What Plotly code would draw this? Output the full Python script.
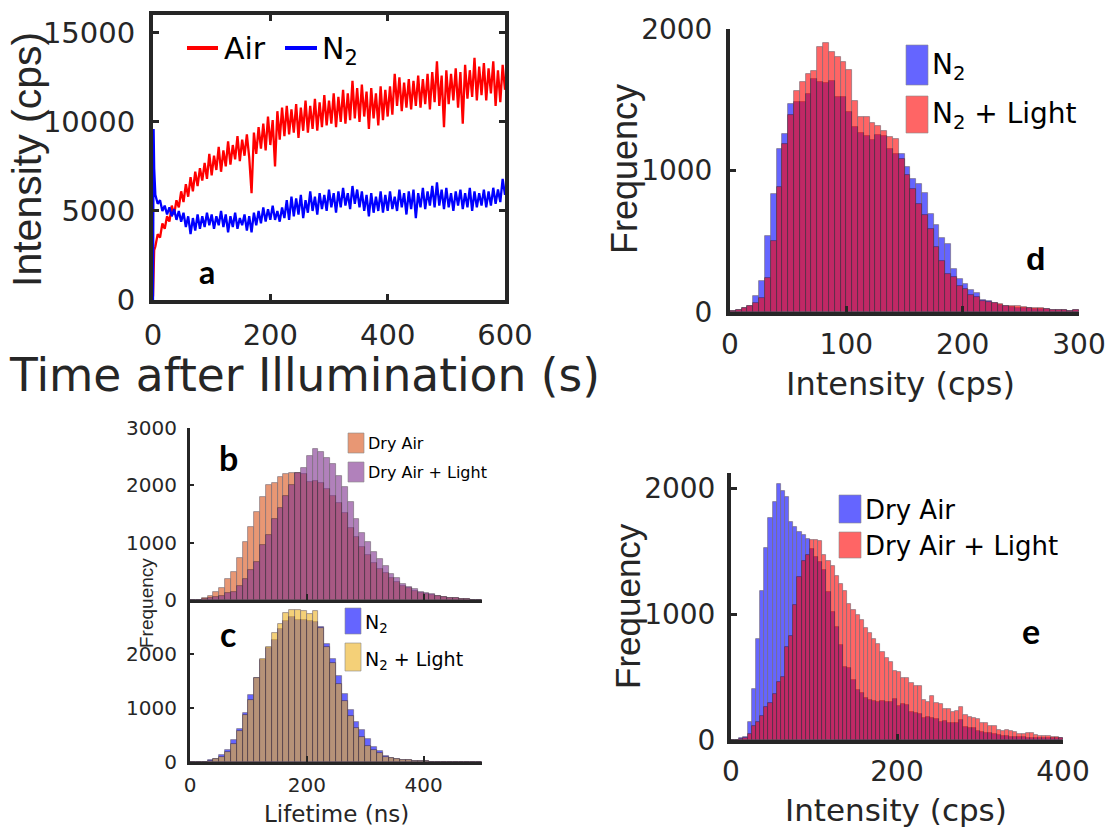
import plotly.graph_objects as go

W, H = 1110, 832
INK = "#262626"

# ---------------- Panel a : intensity vs time ----------------
time_s = [0, 1, 2] + list(range(4, 601, 4))
air_cps = [200, 2500, 2800,
    3000, 3700, 3500, 4300, 4000, 4700, 4400, 5300, 4800, 5600,
    5200, 6100, 5500, 6500, 5800, 6900, 6100, 7200, 6400, 7400,
    6700, 7700, 6800, 8200, 7000, 8100, 7300, 8600, 7200, 8400,
    7500, 8900, 7600, 8700, 7900, 9200, 7800, 9000, 8100, 9300,
    8000, 6000, 9400, 8200, 9700, 8500, 9900, 8400, 10300, 8700,
    10100, 7500, 10600, 9000, 10800, 9200, 10900, 9300, 10700, 9400,
    11000, 9100, 10800, 9500, 11200, 9400, 10900, 9600, 11300, 9500,
    11100, 9700, 11500, 9800, 11200, 9900, 11600, 9700, 11400, 10000,
    11800, 9900, 11600, 10100, 12300, 10200, 11900, 10000, 12100, 10300,
    11700, 9600, 11900, 10200, 11600, 9800, 12000, 10100, 11800, 10300,
    12000, 10400, 12700, 10900, 12500, 10600, 12200, 10800, 12400, 10700,
    12300, 10900, 12600, 10800, 12400, 11000, 12700, 10700, 12800, 11100,
    13400, 10900, 12600, 9700, 12900, 11000, 12700, 11200, 13000, 10800,
    12800, 9900, 13200, 11300, 12900, 11400, 13600, 11200, 13100, 11500,
    13300, 11200, 13000, 11600, 13400, 10900, 12900, 11100, 13200, 11800]
n2_cps = [0, 9600, 7400,
    5900, 5400, 5600, 5000, 5300, 4800, 5200, 4700, 5100, 4500,
    5000, 4400, 4900, 4100, 4700, 3700, 4600, 3900, 4800, 4000,
    4700, 4100, 4900, 4200, 4800, 4000, 4700, 4200, 5000, 4100,
    4800, 3800, 4700, 4100, 4900, 4000, 4600, 4200, 4800, 3900,
    4700, 3800, 4900, 4200, 5000, 4300, 5200, 4400, 5100, 4500,
    5300, 4500, 5000, 4400, 5200, 4600, 5600, 4500, 5800, 4700,
    5700, 4800, 5900, 4600, 5600, 4900, 6100, 5000, 5800, 4800,
    6000, 5100, 5900, 5000, 6200, 5200, 6000, 4900, 6100, 5200,
    6300, 5300, 6000, 5100, 6400, 5400, 6200, 5200, 6100, 5000,
    5900, 4700, 6000, 4900, 5800, 5000, 6100, 4900, 5900, 5000,
    6100, 5100, 5800, 5000, 6200, 5200, 6000, 4800, 6100, 5100,
    6200, 4600, 6000, 5200, 6300, 5100, 6100, 5300, 6400, 5200,
    6600, 5300, 6200, 5100, 6300, 5200, 6000, 5000, 6100, 5300,
    6200, 5100, 6000, 5200, 6300, 5000, 6100, 5200, 6000, 5300,
    6200, 5200, 6100, 5300, 6300, 5400, 6200, 5500, 6800, 5900]

# ---------------- Panel d : intensity histogram, N2 ----------------
d_bin_width = 5
d_bin_left = list(range(0, 300, 5))
d_n2 = [5, 14, 25, 42, 115, 216, 540, 836, 1153, 1258,
        1469, 1481, 1481, 1540, 1646, 1622, 1620, 1634, 1521, 1521,
        1411, 1310, 1265, 1242, 1218, 1251, 1242, 1153, 1117, 1117,
        1027, 940, 902, 843, 693, 615, 521, 481, 302, 233,
        196, 155, 132, 85, 78, 66, 52, 42, 35, 28,
        26, 26, 21, 19, 19, 14, 12, 12, 10, 12]
d_n2_light = [5, 14, 25, 42, 61, 96, 237, 505, 883, 1188,
              1392, 1563, 1622, 1681, 1704, 1873, 1899, 1840, 1805, 1770,
              1709, 1493, 1376, 1380, 1333, 1317, 1282, 1239, 1223, 1081,
              968, 867, 761, 686, 587, 462, 360, 269, 250, 184,
              160, 120, 108, 78, 73, 62, 55, 42, 45, 45,
              38, 26, 31, 31, 19, 14, 12, 12, 10, 12]

# ---------------- Panel e : intensity histogram, dry air ----------------
e_bin_width = 5
e_bin_left = list(range(0, 400, 5))
e_dry_air = [0, 0, 13, 26, 146, 405, 799, 1183, 1526, 1759,
             1886, 2032, 1979, 1931, 1733, 1688, 1653, 1624, 1593, 1520,
             1455, 1415, 1349, 1177, 1019, 899, 754, 582, 569, 476,
             397, 376, 336, 317, 312, 304, 310, 304, 304, 323,
             270, 286, 278, 225, 217, 206, 172, 185, 172, 164,
             146, 153, 132, 138, 132, 159, 106, 93, 93, 74,
             66, 58, 53, 48, 40, 34, 32, 26, 26, 24,
             21, 18, 16, 15, 15, 14, 14, 13, 13, 12]
e_dry_air_light = [0, 0, 5, 13, 48, 111, 145, 190, 265, 291,
                   365, 460, 503, 741, 825, 1071, 1296, 1423, 1468, 1590,
                   1585, 1580, 1470, 1420, 1380, 1300, 1240, 1180, 1080, 1030,
                   990, 950, 890, 850, 800, 760, 700, 650, 620, 545,
                   540, 490, 495, 450, 430, 425, 320, 300, 350, 290,
                   285, 245, 250, 225, 230, 260, 195, 180, 172, 167,
                   132, 132, 114, 114, 80, 74, 80, 74, 61, 48,
                   48, 53, 53, 40, 34, 32, 32, 26, 26, 18]

# ---------------- Panels b, c : lifetime histograms ----------------
lt_bin_width = 10
lt_bin_left = list(range(0, 500, 10))
b_dry_air = [0, 5, 41, 76, 134, 203, 360, 494, 727, 1006,
             1279, 1541, 1802, 2006, 2047, 2151, 2192, 2209, 2209, 2198,
             2064, 2076, 2047, 1930, 1814, 1686, 1512, 1262, 1093, 930,
             785, 651, 541, 465, 378, 308, 250, 203, 163, 128,
             105, 90, 70, 55, 38, 27, 16, 11, 6, 3]
b_dry_air_light = [0, 0, 10, 29, 58, 76, 116, 145, 250, 360,
                   523, 669, 959, 1134, 1413, 1610, 1814, 2006, 2209, 2297,
                   2512, 2628, 2576, 2471, 2366, 2163, 1977, 1715, 1407, 1163,
                   1017, 843, 709, 599, 453, 378, 279, 233, 186, 145,
                   116, 99, 76, 58, 41, 29, 17, 12, 6, 3]
c_n2 = [0, 0, 8, 31, 62, 130, 222, 407, 605, 901,
        1241, 1562, 1889, 2105, 2259, 2457, 2611, 2691, 2630, 2630,
        2611, 2599, 2506, 2179, 1907, 1599, 1259, 963, 747, 593,
        426, 284, 204, 117, 80, 56, 37, 31, 25, 19,
        12, 6, 4, 3, 2, 1, 0, 0, 0, 0]
c_n2_light = [0, 0, 5, 19, 50, 99, 179, 327, 574, 870,
              1148, 1562, 1907, 2136, 2383, 2549, 2753, 2815, 2815, 2796,
              2734, 2796, 2475, 2136, 1827, 1438, 1130, 858, 623, 469,
              302, 222, 160, 99, 68, 50, 35, 28, 22, 17,
              10, 6, 4, 3, 2, 1, 0, 0, 0, 0]

# colours (MATLAB-like)
RED = "rgb(255,0,0)"
BLUE = "rgb(0,0,255)"
ORANGE = "rgb(217,83,25)"
PURPLE = "rgb(126,47,142)"
YELLOW = "rgb(237,177,32)"
EDGE = "rgba(20,0,20,0.75)"


def px(x):
    return x / W


def py(y):
    return 1 - y / H


def centers(lefts, w):
    return [l + w / 2 for l in lefts]


fig = go.Figure()

# panel a lines
fig.add_trace(go.Scatter(x=time_s, y=air_cps, mode="lines", name="Air",
                         line=dict(color=RED, width=2.3), xaxis="x", yaxis="y"))
fig.add_trace(go.Scatter(x=time_s, y=n2_cps, mode="lines", name="N2",
                         line=dict(color=BLUE, width=2.3), xaxis="x", yaxis="y"))


def hist(lefts, w, counts, color, name, xa, ya):
    return go.Bar(x=centers(lefts, w), y=counts, width=w, name=name,
                  marker=dict(color=color, line=dict(color=EDGE, width=0.8)),
                  opacity=0.6, xaxis=xa, yaxis=ya)


fig.add_trace(hist(d_bin_left, d_bin_width, d_n2, BLUE, "N2", "x2", "y2"))
fig.add_trace(hist(d_bin_left, d_bin_width, d_n2_light, RED, "N2 + Light", "x2", "y2"))
fig.add_trace(hist(lt_bin_left, lt_bin_width, b_dry_air, ORANGE, "Dry Air", "x3", "y3"))
fig.add_trace(hist(lt_bin_left, lt_bin_width, b_dry_air_light, PURPLE, "Dry Air + Light", "x3", "y3"))
fig.add_trace(hist(lt_bin_left, lt_bin_width, c_n2, BLUE, "N2", "x4", "y4"))
fig.add_trace(hist(lt_bin_left, lt_bin_width, c_n2_light, YELLOW, "N2 + Light", "x4", "y4"))
fig.add_trace(hist(e_bin_left, e_bin_width, e_dry_air, BLUE, "Dry Air", "x5", "y5"))
fig.add_trace(hist(e_bin_left, e_bin_width, e_dry_air_light, RED, "Dry Air + Light", "x5", "y5"))


def axis(rng, tickvals, domain, anchor, size, lw, standoff, showlabels=True,
         mirror=False, ticklen=6):
    return dict(range=rng, domain=domain, anchor=anchor, tickvals=tickvals,
                tickformat="d", automargin=False,
                ticks="inside", ticklen=ticklen, tickwidth=max(lw - 1, 1),
                tickcolor=INK, showline=True, linecolor=INK, linewidth=lw,
                mirror=mirror, showgrid=False, zeroline=False,
                showticklabels=showlabels, ticklabelstandoff=standoff,
                tickfont=dict(family="DejaVu Sans", size=size, color=INK),
                fixedrange=True)


layout = dict(
    width=W, height=H, margin=dict(l=0, r=0, t=0, b=0, pad=0, autoexpand=False),
    paper_bgcolor="white", plot_bgcolor="rgba(0,0,0,0)",
    barmode="overlay", bargap=0, showlegend=False,
    # panel a
    xaxis=axis([0, 600], [0, 200, 400, 600], [px(153), px(505)], "y", 29, 4, 6, mirror="ticks"),
    yaxis=axis([0, 16000], [0, 5000, 10000, 15000], [py(300), py(15)], "x", 29, 4, 8, mirror="ticks"),
    # panel d
    xaxis2=axis([0, 300], [0, 100, 200, 300], [px(730), px(1079)], "y2", 28, 4, 4),
    yaxis2=axis([0, 2000], [0, 1000, 2000], [py(312), py(29)], "x2", 28, 4, 8),
    # panel b
    xaxis3=axis([0, 500], [0, 200, 400], [px(190), px(482)], "y3", 20, 3, 6, showlabels=False),
    yaxis3=axis([0, 3000], [0, 1000, 2000, 3000], [py(600), py(428)], "x3", 20, 3, 6, ticklen=4),
    # panel c
    xaxis4=axis([0, 500], [0, 200, 400], [px(190), px(482)], "y4", 20, 3, 3),
    yaxis4=axis([0, 3000], [0, 1000, 2000], [py(762), py(600)], "x4", 20, 3, 6, ticklen=4),
    # panel e
    xaxis5=axis([0, 400], [0, 200, 400], [px(731), px(1063)], "y5", 28, 4, 3),
    yaxis5=axis([0, 2120], [0, 1000, 2000], [py(740), py(473)], "x5", 28, 4, 6),
)

annotations = []
shapes = []


def text(x, y, s, size, family="DejaVu Sans", angle=0, xanchor="center", color=INK):
    annotations.append(dict(x=px(x), y=py(y), xref="paper", yref="paper", text=s,
                            showarrow=False, xanchor=xanchor, yanchor="middle",
                            textangle=angle,
                            font=dict(family=family, size=size, color=color)))


# axis titles
text(304, 375, "Time after Illumination (s)", 45.5)
text(27, 160, "Intensity (cps)", 41, family="Liberation Sans", angle=-90)
text(900, 384, "Intensity (cps)", 32)
text(624, 169, "Frequency", 36, family="Liberation Sans", angle=-90)
text(896, 810, "Intensity (cps)", 31)
text(627, 606, "Frequency", 35, family="Liberation Sans", angle=-90)
text(336, 814, "Lifetime (ns)", 23)
text(146, 603, "Frequency", 19, family="Liberation Sans", angle=-90)

# panel labels
text(207, 272, "<b>a</b>", 32, family="Lato", color="black")
text(228, 457, "<b>b</b>", 34, family="Lato", color="black")
text(228, 633, "<b>c</b>", 34, family="Lato", color="black")
text(1036, 259, "<b>d</b>", 32, family="Liberation Sans", color="black")
text(1031, 630, "<b>e</b>", 34, family="Lato", color="black")

# legend of panel a
shapes.append(dict(type="line", xref="paper", yref="paper", x0=px(187), x1=px(218),
                   y0=py(48), y1=py(48), line=dict(color=RED, width=4)))
shapes.append(dict(type="line", xref="paper", yref="paper", x0=px(285), x1=px(317),
                   y0=py(48), y1=py(48), line=dict(color=BLUE, width=4)))
text(222, 48, "Air", 30, xanchor="left", color="black")
text(320, 50, "N<sub>2</sub>", 30, xanchor="left", color="black")


def swatch(x0, x1, y0, y1, color):
    shapes.append(dict(type="rect", xref="paper", yref="paper", x0=px(x0), x1=px(x1),
                       y0=py(y1), y1=py(y0), fillcolor=color, opacity=0.6,
                       line=dict(color="rgba(60,60,60,0.6)", width=1)))


# legend of panel d
swatch(906, 928, 45, 85, BLUE)
swatch(906, 928, 96, 133, RED)
text(930, 66, "N<sub>2</sub>", 28, xanchor="left", color="black")
text(930, 116, "N<sub>2</sub> + Light", 28, xanchor="left", color="black")

# legend of panel e
swatch(839, 861, 495, 523, BLUE)
swatch(839, 861, 532, 558, RED)
text(863, 510, "Dry Air", 26, xanchor="left", color="black")
text(863, 546, "Dry Air + Light", 26, xanchor="left", color="black")

# legend of panel b
swatch(348, 364, 433, 453, ORANGE)
swatch(348, 364, 462, 482, PURPLE)
text(366, 443, "Dry Air", 16, xanchor="left", color="black")
text(366, 472, "Dry Air + Light", 16, xanchor="left", color="black")

# legend of panel c
swatch(345, 361, 608, 634, BLUE)
swatch(345, 361, 643, 671, YELLOW)
text(363, 623, "N<sub>2</sub>", 19, xanchor="left", color="black")
text(363, 660, "N<sub>2</sub> + Light", 19, xanchor="left", color="black")

layout["annotations"] = annotations
layout["shapes"] = shapes
fig.update_layout(**layout)

fig.write_html("out.html")
